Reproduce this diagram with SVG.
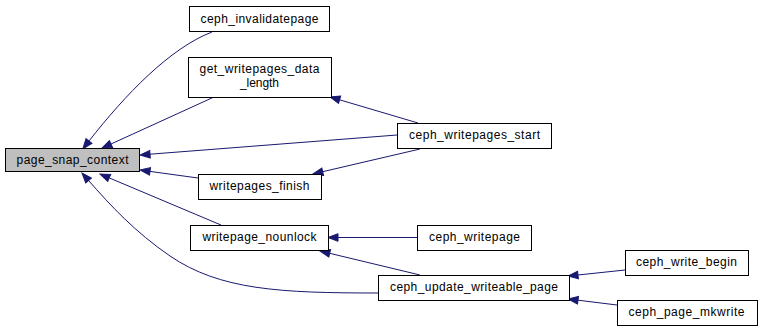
<svg xmlns="http://www.w3.org/2000/svg" width="761" height="332" viewBox="0 0 761 332">
  <style>
    .node rect { fill: #ffffff; stroke: #000000; stroke-width: 1; }
    .node.current rect { fill: #bfbfbf; }
    .node text { font-family: "Liberation Sans", Arial, sans-serif; font-size: 12px; fill: #000000; text-anchor: middle; }
    .edge { fill: none; stroke: #191970; stroke-width: 1; marker-end: url(#arrow); }
  </style>
  <defs>
    <marker id="arrow" markerUnits="userSpaceOnUse" markerWidth="12" markerHeight="10" viewBox="0 -5 10 10" refX="0" refY="0" orient="auto">
      <path d="M0,-3.8 L10,0 L0,3.8 Z" fill="#191970" stroke="#191970" stroke-width="1"/>
    </marker>
  </defs>
  <rect width="761" height="332" fill="#ffffff"/>

  <g id="connectors">
    <path class="edge" d="M212,32 C170,48 125,95 89,141"/>
    <path class="edge" d="M214,97 L111,144"/>
    <path class="edge" d="M397,135 L150,154.2"/>
    <path class="edge" d="M418,123 L339.6,99.8"/>
    <path class="edge" d="M420,149 L322.7,171.7"/>
    <path class="edge" d="M198,178 L150,171.4"/>
    <path class="edge" d="M221,225 L109.2,177.9"/>
    <path class="edge" d="M378,293 C280,293 220,290 170,256 C135,232 110,205 88.6,180.5"/>
    <path class="edge" d="M417,237.5 L338,237.5"/>
    <path class="edge" d="M420,275 L329.7,253.3"/>
    <path class="edge" d="M625,270 L578,275"/>
    <path class="edge" d="M617,305 L578,300.2"/>
  </g>

  <g id="page_snap_context" class="node current">
    <rect x="5.5" y="148.5" width="134" height="23"/>
    <text x="72.5" y="164" textLength="112" lengthAdjust="spacing">page_snap_context</text>
  </g>
  <g id="ceph_invalidatepage" class="node">
    <rect x="189.5" y="6.5" width="140" height="25"/>
    <text x="259.5" y="22.5" textLength="118" lengthAdjust="spacing">ceph_invalidatepage</text>
  </g>
  <g id="get_writepages_data_length" class="node">
    <rect x="188.5" y="57.5" width="143" height="40"/>
    <text x="259.5" y="72.5" textLength="120" lengthAdjust="spacing">get_writepages_data</text>
    <text x="259.5" y="87" textLength="39" lengthAdjust="spacing">_length</text>
  </g>
  <g id="writepages_finish" class="node">
    <rect x="198.5" y="174.5" width="123" height="25"/>
    <text x="259.5" y="190" textLength="100" lengthAdjust="spacing">writepages_finish</text>
  </g>
  <g id="writepage_nounlock" class="node">
    <rect x="190.5" y="225.5" width="138" height="25"/>
    <text x="259.5" y="241" textLength="114" lengthAdjust="spacing">writepage_nounlock</text>
  </g>
  <g id="ceph_writepages_start" class="node">
    <rect x="397.5" y="123.5" width="154" height="25"/>
    <text x="474.5" y="139" textLength="131" lengthAdjust="spacing">ceph_writepages_start</text>
  </g>
  <g id="ceph_writepage" class="node">
    <rect x="417.5" y="225.5" width="114" height="25"/>
    <text x="474.5" y="241" textLength="91" lengthAdjust="spacing">ceph_writepage</text>
  </g>
  <g id="ceph_update_writeable_page" class="node">
    <rect x="378.5" y="275.5" width="191" height="25"/>
    <text x="474" y="291" textLength="168" lengthAdjust="spacing">ceph_update_writeable_page</text>
  </g>
  <g id="ceph_write_begin" class="node">
    <rect x="625.5" y="250.5" width="123" height="25"/>
    <text x="686.5" y="266" textLength="101" lengthAdjust="spacing">ceph_write_begin</text>
  </g>
  <g id="ceph_page_mkwrite" class="node">
    <rect x="617.5" y="300.5" width="140" height="25"/>
    <text x="686.5" y="316" textLength="116" lengthAdjust="spacing">ceph_page_mkwrite</text>
  </g>
</svg>
